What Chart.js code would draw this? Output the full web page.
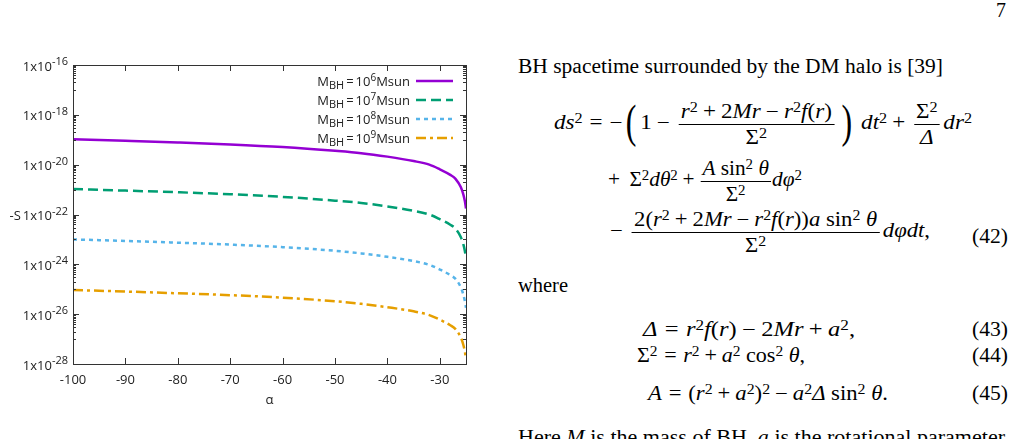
<!DOCTYPE html>
<html>
<head>
<meta charset="utf-8">
<script src="https://cdn.jsdelivr.net/npm/chart.js@4"></script>
<style>
body { margin: 0; background: #fff; width: 1014px; height: 439px; overflow: hidden; position: relative;
       font-family: "Liberation Serif", serif; font-size: 20px; color: #000; }
#chartBox { position: absolute; left: 0; top: 0; width: 500px; height: 439px; }
.ln { position: absolute; white-space: nowrap; line-height: 24px; }
.fr { display: inline-flex; flex-direction: column; align-items: center; vertical-align: middle; line-height: 1.15; margin: 0 3px; }
.fr > .n { border-bottom: 1px solid #000; padding: 0 2px 1px; }
.fr > .d { padding-top: 1px; }
sup { font-size: 70%; line-height: 0; vertical-align: 0.45em; }
.bp { font-size: 46px; line-height: 0; vertical-align: -8px; display: inline-block; transform: scaleX(0.6); }
.r { margin: 0 0.3em; }
.b { margin: 0 0.22em; }
.num { position: absolute; left: 972px; line-height: 24px; }
</style>
</head>
<body>
<div class="ln" style="left:996px; top:-2px">7</div>

<div id="chartBox"><canvas id="c" width="500" height="439"></canvas></div>

<div class="ln" data-w="425" style="left:518px; top:54px">BH spacetime surrounded by the DM halo is [39]</div>

<div class="ln" data-w="418" style="left:554px; top:100px"><i>ds</i><sup>2</sup><span class="r">=</span>−<span class="bp">(</span>1<span class="b">−</span><span class="fr"><span class="n"><i>r</i><sup>2</sup><span class="b">+</span>2<i>Mr</i><span class="b">−</span><i>r</i><sup>2</sup><i>f</i>(<i>r</i>)</span><span class="d">Σ<sup>2</sup></span></span><span class="bp">)</span> <i>dt</i><sup>2</sup><span class="b">+</span><span class="fr"><span class="n">Σ<sup>2</sup></span><span class="d"><i>Δ</i></span></span><i>dr</i><sup>2</sup></div>

<div class="ln" data-w="194" style="left:608px; top:157px">+<span class="b"></span>Σ<sup>2</sup><i>dθ</i><sup>2</sup><span class="b">+</span><span class="fr" style="margin:0 1px"><span class="n"><i>A</i> sin<sup>2</sup> <i>θ</i></span><span class="d">Σ<sup>2</sup></span></span><i>dφ</i><sup>2</sup></div>

<div class="ln" data-w="320" style="left:610px; top:208px">− <span class="fr"><span class="n">2(<i>r</i><sup>2</sup><span class="b">+</span>2<i>Mr</i><span class="b">−</span><i>r</i><sup>2</sup><i>f</i>(<i>r</i>))<i>a</i> sin<sup>2</sup> <i>θ</i></span><span class="d">Σ<sup>2</sup></span></span><i>dφdt</i>,</div>
<div class="num" data-w="36" style="top:224px">(42)</div>

<div class="ln" data-w="50" style="left:518px; top:273px">where</div>

<div class="ln" data-w="212" style="left:643px; top:317px"><i>Δ</i><span class="r">=</span><i>r</i><sup>2</sup><i>f</i>(<i>r</i>)<span class="b">−</span>2<i>Mr</i><span class="b">+</span><i>a</i><sup>2</sup>,</div>
<div class="num" data-w="36" style="top:317px">(43)</div>
<div class="ln" data-w="168" style="left:637px; top:343px">Σ<sup>2</sup><span class="r">=</span><i>r</i><sup>2</sup><span class="b">+</span><i>a</i><sup>2</sup> cos<sup>2</sup> <i>θ</i>,</div>
<div class="num" data-w="36" style="top:343px">(44)</div>
<div class="ln" data-w="240" style="left:648px; top:381px"><i>A</i><span class="r">=</span>(<i>r</i><sup>2</sup><span class="b">+</span><i>a</i><sup>2</sup>)<sup>2</sup><span class="b">−</span><i>a</i><sup>2</sup><i>Δ</i> sin<sup>2</sup> <i>θ</i>.</div>
<div class="num" data-w="36" style="top:381px">(45)</div>

<div class="ln" data-w="487" style="left:518px; top:425px">Here <i>M</i> is the mass of BH, <i>a</i> is the rotational parameter</div>

<script>
// values (log10 scale)
const alpha = [-100, -90, -80, -70, -60, -50, -45, -40, -35, -32, -30, -28, -27, -26, -25.5, -25.2, -25];
const sBH6 = [1.05e-19, 9.1e-20, 7.8e-20, 6.5e-20, 5.1e-20, 3.6e-20, 2.9e-20, 2.1e-20, 1.4e-20, 1.0e-20, 6.5e-21, 3.9e-21, 2.7e-21, 1.26e-21, 6.3e-22, 3.3e-22, 1.74e-22];
const sBH7 = [1.05e-21, 9.1e-22, 7.8e-22, 6.5e-22, 5.1e-22, 3.6e-22, 2.9e-22, 2.1e-22, 1.4e-22, 1.0e-22, 6.5e-23, 3.9e-23, 2.7e-23, 1.26e-23, 6.3e-24, 3.3e-24, 1.7e-24];
const sBH8 = [1.0e-23, 8.7e-24, 7.4e-24, 6.2e-24, 4.9e-24, 3.5e-24, 2.75e-24, 2.0e-24, 1.35e-24, 9.5e-25, 6.2e-25, 3.7e-25, 2.6e-25, 1.2e-25, 6.0e-26, 3.2e-26, 1.8e-26];
const sBH9 = [9.3e-26, 8.1e-26, 6.9e-26, 5.8e-26, 4.6e-26, 3.3e-26, 2.6e-26, 1.9e-26, 1.3e-26, 9.2e-27, 6.0e-27, 3.6e-27, 2.5e-27, 1.17e-27, 5.8e-28, 3.0e-28, 1.55e-28];
const massExp = [6, 7, 8, 9];
const xTicks = [-100, -90, -80, -70, -60, -50, -40, -30];
const yTickExp = [-16, -18, -20, -22, -24, -26, -28];

const colors = ['#9400d3', '#009e73', '#56b4e9', '#e69f00'];
const dashes = [[], [10, 5], [4, 4], [10, 4, 3, 4]];
const series = [sBH6, sBH7, sBH8, sBH9];
const textColor = '#222';

// stretch the serif text lines to the widths of the typeset page
document.querySelectorAll('[data-w]').forEach(el => {
    const w = el.getBoundingClientRect().width;
    el.style.transformOrigin = '0 0';
    el.style.transform = 'scaleX(' + (+el.dataset.w / w) + ')';
});

const datasets = series.map((s, i) => ({
    label: 'MBH=10^' + massExp[i] + 'Msun',
    data: alpha.map((a, j) => ({ x: a, y: s[j] })),
    borderColor: colors[i],
    borderWidth: 2.5,
    borderDash: dashes[i],
    pointRadius: 0,
    fill: false,
    cubicInterpolationMode: 'monotone'
}));

// draw text pieces with sub/superscripts, returns total width
function richText(ctx, parts, x, y, measureOnly) {
    let w = 0;
    parts.forEach(p => {
        ctx.font = p.size + 'px "Open Sans"';
        const pw = ctx.measureText(p.t).width + (p.gap || 0) * 2;
        if (!measureOnly) ctx.fillText(p.t, x + w + (p.gap || 0), y + (p.dy || 0));
        w += pw;
    });
    return w;
}

// frame, inward ticks, y labels
const frame = {
    id: 'frame',
    afterDraw(chart) {
        const { ctx, chartArea: a, scales: { x, y } } = chart;
        ctx.save();
        ctx.strokeStyle = '#333';
        ctx.lineWidth = 1;
        ctx.beginPath();
        xTicks.forEach(v => {
            const px = Math.round(x.getPixelForValue(v)) + 0.5;
            ctx.moveTo(px, a.bottom); ctx.lineTo(px, a.bottom - 6);
            ctx.moveTo(px, a.top); ctx.lineTo(px, a.top + 6);
        });
        yTickExp.forEach(e => {
            const py = Math.round(y.getPixelForValue(Math.pow(10, e))) + 0.5;
            ctx.moveTo(a.left, py); ctx.lineTo(a.left + 6, py);
            ctx.moveTo(a.right, py); ctx.lineTo(a.right - 6, py);
            if (e > -28) {
                for (let k = 1; k <= 9; k++) {
                    const my = Math.round(y.getPixelForValue(k * Math.pow(10, e - 1))) + 0.5;
                    ctx.moveTo(a.left, my); ctx.lineTo(a.left + 3, my);
                    ctx.moveTo(a.right, my); ctx.lineTo(a.right - 3, my);
                }
            }
        });
        ctx.stroke();
        ctx.strokeRect(a.left + 0.5, a.top + 0.5, a.right - a.left, a.bottom - a.top);

        ctx.fillStyle = textColor;
        ctx.textAlign = 'left';
        ctx.textBaseline = 'alphabetic';
        yTickExp.forEach(e => {
            const py = y.getPixelForValue(Math.pow(10, e));
            const parts = [{ t: '1x10', size: 13, dy: 5.5 }, { t: String(e), size: 11, dy: 0 }];
            const w = richText(ctx, parts, 0, 0, true);
            richText(ctx, parts, a.left - 5 - w, py, false);
            if (e === -22) {
                ctx.font = '13px "Open Sans"';
                ctx.textAlign = 'right';
                ctx.fillText('-S', a.left - 5 - w - 2, py + 5.5);
                ctx.textAlign = 'left';
            }
        });
        ctx.restore();
    }
};

// gnuplot-style key, top right inside the plot
const key = {
    id: 'key',
    afterDraw(chart) {
        const { ctx, chartArea: a } = chart;
        ctx.save();
        ctx.fillStyle = textColor;
        ctx.textBaseline = 'alphabetic';
        massExp.forEach((m, i) => {
            const cy = a.top + 16 + i * 19;
            const parts = [
                { t: 'M', size: 13, dy: 5 },
                { t: 'BH', size: 11, dy: 8 },
                { t: '=', size: 13, dy: 5, gap: 2 },
                { t: '10', size: 13, dy: 5 },
                { t: String(m), size: 10, dy: -0.5 },
                { t: 'Msun', size: 13, dy: 5 }
            ];
            const w = richText(ctx, parts, 0, 0, true);
            richText(ctx, parts, a.right - 56 - w, cy, false);
            ctx.strokeStyle = colors[i];
            ctx.lineWidth = 2.5;
            ctx.setLineDash(dashes[i]);
            ctx.beginPath();
            ctx.moveTo(a.right - 50, cy);
            ctx.lineTo(a.right - 13, cy);
            ctx.stroke();
        });
        ctx.restore();
    }
};

new Chart(document.getElementById('c'), {
    type: 'line',
    data: { datasets: datasets },
    options: {
        responsive: false,
        animation: false,
        devicePixelRatio: 1,
        layout: { padding: { top: 65, right: 34, left: 0, bottom: 0 } },
        plugins: { legend: { display: false }, tooltip: { enabled: false } },
        scales: {
            x: {
                type: 'linear',
                min: -100,
                max: -25,
                afterBuildTicks: s => { s.ticks = xTicks.map(v => ({ value: v })); },
                afterFit: s => { s.height = 75; },
                grid: { display: false, drawTicks: false },
                border: { display: false },
                ticks: { padding: 8, color: textColor, font: { family: 'Open Sans', size: 13 }, maxRotation: 0, autoSkip: false, callback: v => String(v) },
                title: { display: true, text: 'α', color: textColor, font: { family: 'Open Sans', size: 13 }, padding: { top: 0, bottom: 31 } }
            },
            y: {
                type: 'logarithmic',
                min: 1e-28,
                max: 1e-16,
                afterBuildTicks: s => { s.ticks = yTickExp.map(e => ({ value: Math.pow(10, e) })); },
                afterFit: s => { s.width = 73; },
                grid: { display: false, drawTicks: false },
                border: { display: false },
                ticks: { display: false }
            }
        }
    },
    plugins: [frame, key]
});
</script>
</body>
</html>
